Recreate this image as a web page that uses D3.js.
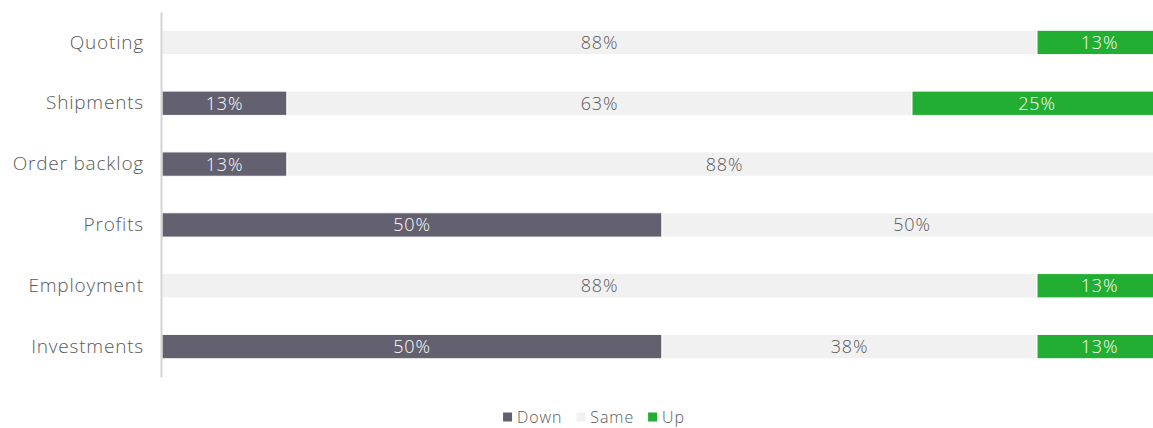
<!DOCTYPE html>
<html><head><meta charset="utf-8">
<script src="https://cdn.jsdelivr.net/npm/d3@7"></script>
<style>
body{margin:0;background:#fff;}
text{font-family:"Open Sans",sans-serif;font-weight:300;}
</style></head>
<body><svg id="c" width="1153" height="428"></svg>
<script>
const categories = ["Quoting","Shipments","Order backlog","Profits","Employment","Investments"];
const seriesNames = ["Down","Same","Up"];
const down = [0, 12.5, 12.5, 50, 0, 50];
const same = [87.5, 62.5, 87.5, 50, 87.5, 37.5];
const up = [12.5, 25, 0, 0, 12.5, 12.5];
const colors = ["#63616f","#f1f1f1","#22ae32"];
const labelColors = ["#ffffff","#595959","#ffffff"];

const svg = d3.select("#c");
const x = d3.scaleLinear().domain([0,100]).range([162,1162]);
const y = d3.scaleBand().domain(categories).range([12,377]).paddingInner(0.6).paddingOuter(0.3);

const rows = categories.map((c,i)=>({cat:c, Down:down[i], Same:same[i], Up:up[i]}));
const stack = d3.stack().keys(seriesNames)(rows);

const g = svg.append("g");
stack.forEach((layer,si)=>{
  const lg = g.append("g");
  lg.selectAll("rect").data(layer.filter(d=>d[1]-d[0]>0)).join("rect")
    .attr("x",d=>x(d[0])).attr("y",d=>y(d.data.cat))
    .attr("width",d=>x(d[1])-x(d[0])).attr("height",y.bandwidth())
    .attr("fill",colors[si]).attr("stroke","#ffffff").attr("stroke-width",1);
  lg.selectAll("text").data(layer.filter(d=>d[1]-d[0]>0)).join("text")
    .attr("x",d=>(x(d[0])+x(d[1]))/2).attr("y",d=>y(d.data.cat)+y.bandwidth()/2)
    .attr("dy","0.36em").attr("text-anchor","middle")
    .attr("font-size",18).attr("letter-spacing","0.8px").attr("fill",labelColors[si])
    .text(d=>Math.round(d[1]-d[0])+"%");
});

// y axis
const ax = svg.append("g").attr("transform","translate(161,0)")
  .call(d3.axisLeft(y).tickSize(0).tickPadding(17));
ax.select(".domain").attr("stroke","#d4d4d4").attr("stroke-width",2);
ax.selectAll("text").attr("font-size",19).attr("fill","#595959")
  .attr("letter-spacing","0.8px")
  .attr("font-family","'Open Sans',sans-serif").attr("font-weight",300);

// legend
const leg = svg.append("g");
let cx = 0;
seriesNames.forEach((n,i)=>{
  const it = leg.append("g");
  it.append("rect").attr("x",0).attr("y",-4.5).attr("width",9).attr("height",9).attr("fill",colors[i]);
  const t = it.append("text").attr("x",14).attr("y",0).attr("dy","0.35em").attr("font-size",16)
    .attr("letter-spacing","0.9px").attr("fill","#595959").text(n);
  const w = 14 + t.node().getComputedTextLength();
  it.attr("transform",`translate(${cx},0)`);
  cx += w + 14;
});
const total = cx - 14;
leg.attr("transform",`translate(${594 - total/2},417)`);
</script></body></html>
